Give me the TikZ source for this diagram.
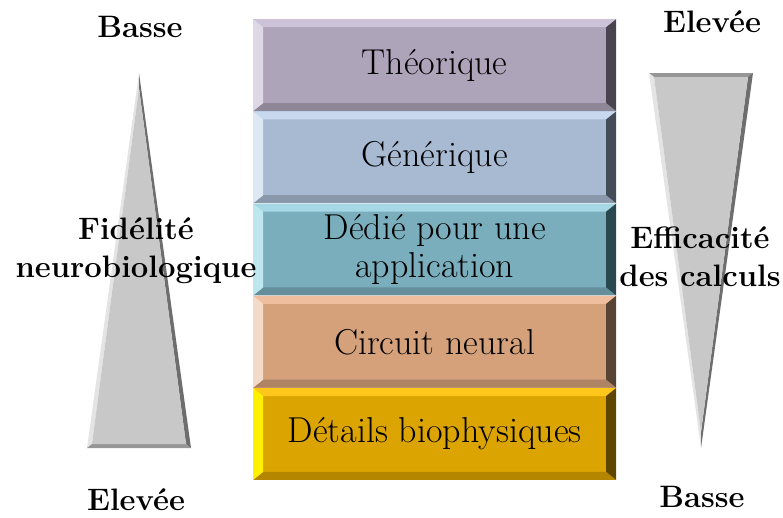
\documentclass[tikz,border=0pt]{standalone}
\usetikzlibrary{positioning}

\definecolor{theoMain}{RGB}{174,164,186}
\definecolor{theoTop}{RGB}{205,195,216}
\definecolor{theoLeft}{RGB}{222,216,230}
\definecolor{theoRight}{RGB}{72,68,80}
\definecolor{geneMain}{RGB}{168,185,210}
\definecolor{geneTop}{RGB}{200,216,238}
\definecolor{geneLeft}{RGB}{222,232,244}
\definecolor{geneRight}{RGB}{68,76,88}
\definecolor{dediMain}{RGB}{122,174,188}
\definecolor{dediTop}{RGB}{165,215,228}
\definecolor{dediLeft}{RGB}{190,230,238}
\definecolor{dediRight}{RGB}{42,72,80}
\definecolor{circMain}{RGB}{212,161,123}
\definecolor{circTop}{RGB}{238,190,158}
\definecolor{circLeft}{RGB}{244,218,200}
\definecolor{circRight}{RGB}{88,68,52}
\definecolor{detaMain}{RGB}{219,164,0}
\definecolor{detaTop}{RGB}{255,198,28}
\definecolor{detaLeft}{RGB}{255,240,0}
\definecolor{detaRight}{RGB}{94,70,0}
\definecolor{coneMain}{RGB}{200,200,200}
\definecolor{coneLight}{RGB}{228,228,228}
\definecolor{coneDark}{RGB}{110,110,110}
\definecolor{coneBase}{RGB}{150,150,150}

\tikzset{
  layer/.style n args={4}{fill=#1, minimum width=363pt, minimum height=91.8pt,
    inner sep=0pt, align=center, font=\fontsize{36}{38}\selectfont,
    path picture={
      \fill[#2] (path picture bounding box.north west) -- (path picture bounding box.north east)
        -- ([shift={(-10pt,-8pt)}]path picture bounding box.north east)
        -- ([shift={(10pt,-8pt)}]path picture bounding box.north west) -- cycle;
      \fill[#1!82!black] (path picture bounding box.south west) -- (path picture bounding box.south east)
        -- ([shift={(-10pt,8pt)}]path picture bounding box.south east)
        -- ([shift={(10pt,8pt)}]path picture bounding box.south west) -- cycle;
      \fill[#3] (path picture bounding box.north west) -- ([shift={(10pt,-8pt)}]path picture bounding box.north west)
        -- ([shift={(10pt,8pt)}]path picture bounding box.south west) -- (path picture bounding box.south west) -- cycle;
      \fill[#4] (path picture bounding box.north east) -- ([shift={(-10pt,-8pt)}]path picture bounding box.north east)
        -- ([shift={(-10pt,8pt)}]path picture bounding box.south east) -- (path picture bounding box.south east) -- cycle;
    }},
  tag/.style={align=center, inner sep=1pt, font=\fontsize{31}{38}\selectfont\bfseries},
}

\begin{document}
\begin{tikzpicture}[x=1pt,y=-1pt]
  \useasboundingbox (0,0) rectangle (783,517);

  % pile of layers
  \node[layer={theoMain}{theoTop}{theoLeft}{theoRight}, anchor=north west] (theorique) at (253,19) {Théorique};
  \node[layer={geneMain}{geneTop}{geneLeft}{geneRight}, below=0pt of theorique] (generique) {Générique};
  \node[layer={dediMain}{dediTop}{dediLeft}{dediRight}, below=0pt of generique] (dedie) {Dédié pour une\\application};
  \node[layer={circMain}{circTop}{circLeft}{circRight}, below=0pt of dedie] (circuit) {Circuit neural};
  \node[layer={detaMain}{detaTop}{detaLeft}{detaRight}, below=0pt of circuit] (details) {Détails biophysiques};

  % left cone
  \coordinate (fid-top) at (139,73);
  \coordinate (fid-left) at (87,448);
  \coordinate (fid-right) at (191,448);
  \coordinate (fid-in-top) at (139,88);
  \coordinate (fid-in-left) at (92,444);
  \coordinate (fid-in-right) at (186,444);
  \fill[coneLight] (fid-top) -- (fid-in-top) -- (fid-in-left) -- (fid-left) -- cycle;
  \fill[coneDark] (fid-top) -- (fid-right) -- (fid-in-right) -- (fid-in-top) -- cycle;
  \fill[coneBase] (fid-left) -- (fid-in-left) -- (fid-in-right) -- (fid-right) -- cycle;
  \fill[coneMain] (fid-in-top) -- (fid-in-left) -- (fid-in-right) -- cycle;

  % right cone
  \coordinate (eff-left) at (649,73);
  \coordinate (eff-right) at (753,73);
  \coordinate (eff-tip) at (701,448);
  \coordinate (eff-in-left) at (654,77);
  \coordinate (eff-in-right) at (748,77);
  \coordinate (eff-in-tip) at (701,432);
  \fill[coneBase] (eff-left) -- (eff-right) -- (eff-in-right) -- (eff-in-left) -- cycle;
  \fill[coneLight] (eff-left) -- (eff-in-left) -- (eff-in-tip) -- (eff-tip) -- cycle;
  \fill[coneDark] (eff-right) -- (eff-tip) -- (eff-in-tip) -- (eff-in-right) -- cycle;
  \fill[coneMain] (eff-in-left) -- (eff-in-right) -- (eff-in-tip) -- cycle;

  % labels
  \node[tag] (fid-high) at (140,27) {Basse};
  \node[tag] (fid-low) at (136,500) {Elevée};
  \node[tag] (fidelite) at (136,251) {Fidélité\\neurobiologique};
  \node[tag] (eff-high) at (712,22) {Elevée};
  \node[tag] (eff-low) at (702,497) {Basse};
  \node[tag] (efficacite) at (700,257) {Efficacité\\des calculs};
\end{tikzpicture}
\end{document}
